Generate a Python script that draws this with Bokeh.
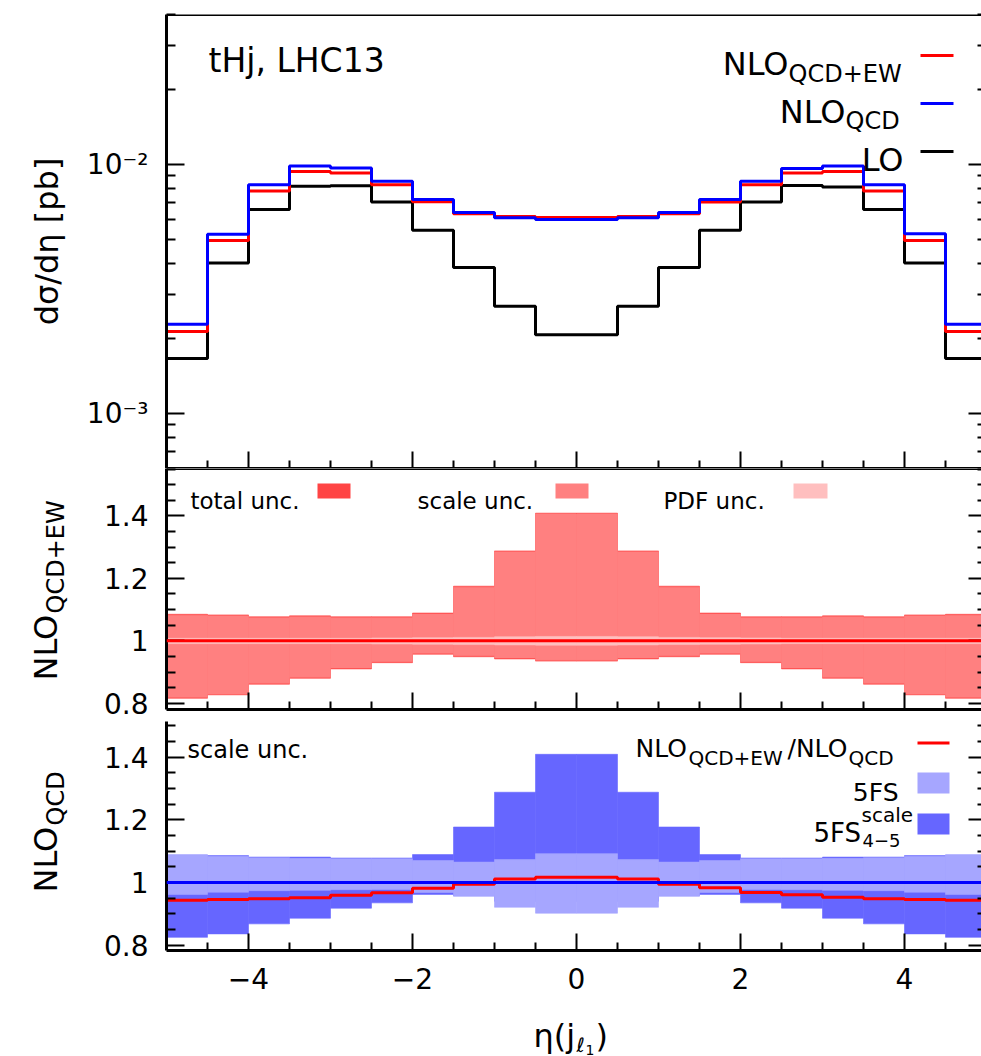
import math
import numpy as np
from bokeh.plotting import figure
from bokeh.models import Range1d, FixedTicker, LinearAxis, LogAxis, Span, Label, BoxAnnotation
from bokeh.layouts import column, row
from bokeh.embed import file_html
from bokeh.resources import INLINE

# ---------------- data ----------------
eta_edges = [-5.0, -4.5, -4.0, -3.5, -3.0, -2.5, -2.0, -1.5, -1.0, -0.5, 0.0,
             0.5, 1.0, 1.5, 2.0, 2.5, 3.0, 3.5, 4.0, 4.5, 5.0]

lo_xsec = [1.66e-3, 4.02e-3, 6.59e-3, 8.16e-3, 8.20e-3, 7.06e-3, 5.43e-3, 3.85e-3, 2.69e-3, 2.07e-3,
           2.07e-3, 2.69e-3, 3.85e-3, 5.43e-3, 7.06e-3, 8.22e-3, 8.12e-3, 6.59e-3, 4.02e-3, 1.66e-3]
nlo_qcd_xsec = [2.28e-3, 5.24e-3, 8.28e-3, 9.85e-3, 9.67e-3, 8.55e-3, 7.23e-3, 6.41e-3, 6.10e-3, 6.00e-3,
                6.00e-3, 6.10e-3, 6.41e-3, 7.23e-3, 8.55e-3, 9.62e-3, 9.85e-3, 8.28e-3, 5.26e-3, 2.28e-3]
nlo_qcdew_xsec = [2.13e-3, 4.95e-3, 7.81e-3, 9.37e-3, 9.23e-3, 8.28e-3, 7.08e-3, 6.34e-3, 6.18e-3, 6.11e-3,
                  6.11e-3, 6.18e-3, 6.34e-3, 7.06e-3, 8.28e-3, 9.23e-3, 9.37e-3, 7.81e-3, 4.95e-3, 2.13e-3]

# middle panel: NLO_QCD+EW uncertainties (ratio to central)
ew_total_hi = [1.085, 1.083, 1.077, 1.080, 1.077, 1.077, 1.089, 1.175, 1.288, 1.409,
               1.409, 1.288, 1.175, 1.089, 1.077, 1.077, 1.080, 1.077, 1.083, 1.085]
ew_total_lo = [0.816, 0.827, 0.861, 0.880, 0.910, 0.930, 0.957, 0.949, 0.942, 0.935,
               0.935, 0.942, 0.949, 0.957, 0.930, 0.910, 0.880, 0.861, 0.827, 0.816]
ew_scale_hi = [1.082, 1.080, 1.074, 1.077, 1.074, 1.074, 1.086, 1.172, 1.285, 1.406,
               1.406, 1.285, 1.172, 1.086, 1.074, 1.074, 1.077, 1.074, 1.080, 1.082]
ew_scale_lo = [0.819, 0.830, 0.864, 0.883, 0.913, 0.933, 0.960, 0.952, 0.945, 0.938,
               0.938, 0.945, 0.952, 0.960, 0.933, 0.913, 0.883, 0.864, 0.830, 0.819]
ew_pdf_hi = [1.008, 1.008, 1.008, 1.008, 1.008, 1.009, 1.010, 1.011, 1.013, 1.014,
             1.014, 1.013, 1.011, 1.010, 1.009, 1.008, 1.008, 1.008, 1.008, 1.008]
ew_pdf_lo = [0.991, 0.991, 0.991, 0.991, 0.991, 0.990, 0.989, 0.988, 0.987, 0.986,
             0.986, 0.987, 0.988, 0.989, 0.990, 0.991, 0.991, 0.991, 0.991, 0.991]

# bottom panel: ratios to NLO_QCD
fs5_hi = [1.089, 1.084, 1.079, 1.077, 1.076, 1.076, 1.070, 1.065, 1.073, 1.092,
          1.092, 1.073, 1.065, 1.070, 1.076, 1.076, 1.077, 1.079, 1.084, 1.089]
fs5_lo = [0.962, 0.969, 0.974, 0.975, 0.977, 0.978, 0.968, 0.956, 0.921, 0.902,
          0.902, 0.921, 0.956, 0.968, 0.978, 0.977, 0.975, 0.974, 0.969, 0.962]
fs45_hi = [1.085, 1.086, 1.081, 1.081, 1.078, 1.078, 1.089, 1.177, 1.288, 1.409,
           1.409, 1.288, 1.177, 1.089, 1.078, 1.078, 1.081, 1.081, 1.086, 1.085]
fs45_lo = [0.825, 0.836, 0.868, 0.886, 0.918, 0.935, 0.962, 0.958, 0.940, 0.940,
           0.940, 0.940, 0.958, 0.962, 0.935, 0.918, 0.886, 0.868, 0.836, 0.825]
ratio_ew_qcd = [0.943, 0.946, 0.948, 0.951, 0.959, 0.967, 0.982, 0.994, 1.011, 1.017,
                1.017, 1.011, 0.994, 0.983, 0.968, 0.961, 0.953, 0.948, 0.946, 0.943]

# ticks / labels
x_major = [-4, -2, 0, 2, 4]
x_minor = [-4.5, -3.5, -3, -2.5, -1.5, -1, -0.5, 0.5, 1, 1.5, 2.5, 3, 3.5, 4.5]
x_labels = {-4: "\u22124", -2: "\u22122", 0: "0", 2: "2", 4: "4"}
log_major = [1e-3, 1e-2]
log_minor = [6e-4, 7e-4, 8e-4, 9e-4, 2e-3, 3e-3, 4e-3, 5e-3, 6e-3, 7e-3, 8e-3, 9e-3, 2e-2, 3e-2, 4e-2]
log_labels = {1e-3: "10\u207b\u00b3", 1e-2: "10\u207b\u00b2"}
r_major = [0.8, 1.0, 1.2, 1.4]
r_minor = [0.85, 0.9, 0.95, 1.05, 1.1, 1.15, 1.25, 1.3, 1.35, 1.45, 1.5, 1.55]
r_labels = {0.8: "0.8", 1.0: "1", 1.2: "1.2", 1.4: "1.4"}

# ---------------- layout constants ----------------
FONT = "DejaVu Sans"
W = 981
STRIP_W = 70                 # left strip holding the rotated axis titles
FL = 166                     # frame left (page px)
PX_PER_ETA = 82.0
X_RANGE = Range1d(-5, -5 + (W - FL) / PX_PER_ETA)
GAP = 12                     # room under the middle panel for its lowest tick label
H1, H2, H3 = 468, 241 + GAP, 296 - GAP
COL_H = H1 + H2 + H3         # 1005
BOT_H = 1056 - COL_H         # 51
MID_LO, MID_HI = 0.78, 1.552
BOT_LO, BOT_HI = 0.783, 1.552
MID_UNIT_PER_PX = (MID_HI - MID_LO) / 241
BOT_UNIT_PER_PX = (BOT_HI - BOT_LO) / 241

edges = np.array(eta_edges)
left_e, right_e = edges[:-1], edges[1:]


def steps(v):
    return list(v) + [v[-1]]


def make_fig(h, yr, ytype, top, bottom):
    p = figure(width=W - STRIP_W, height=h, x_range=X_RANGE, y_range=yr, y_axis_type=ytype,
               output_backend="svg", toolbar_location=None,
               min_border_left=FL - STRIP_W, min_border_right=0,
               min_border_top=top, min_border_bottom=bottom)
    p.outline_line_color = None
    p.grid.visible = False
    return p


def make_strip(w, h):
    s = figure(width=w, height=h, x_range=Range1d(0, 1), y_range=Range1d(0, 1),
               output_backend="svg", toolbar_location=None,
               x_axis_location=None, y_axis_location=None,
               min_border_left=0, min_border_right=0, min_border_top=0, min_border_bottom=0)
    s.outline_line_color = None
    s.grid.visible = False
    return s


def hide_labels(ax, ticks):
    ax.major_label_overrides = {t: "" for t in ticks}
    ax.major_label_text_font_size = "1px"
    ax.major_label_text_alpha = 0
    ax.major_label_standoff = 0


def style_axes(p, ymaj, ymin, ylab, log, xlabels=None, top_line=True):
    ya = p.yaxis[0]
    ya.ticker = FixedTicker(ticks=ymaj, minor_ticks=ymin)
    ya.major_label_overrides = ylab
    ya.major_tick_in = 18; ya.major_tick_out = 0
    ya.minor_tick_in = 9; ya.minor_tick_out = 0
    ya.major_tick_line_width = 2; ya.minor_tick_line_width = 2
    ya.axis_line_width = 3
    ya.major_label_text_font = FONT
    ya.major_label_text_font_size = "28px"
    ya.major_label_standoff = 18
    ya.major_label_text_color = "black"

    xa = p.xaxis[0]
    xa.ticker = FixedTicker(ticks=x_major, minor_ticks=x_minor)
    xa.major_tick_in = 17; xa.major_tick_out = 0
    xa.minor_tick_in = 8; xa.minor_tick_out = 0
    xa.major_tick_line_width = 2; xa.minor_tick_line_width = 2
    xa.axis_line_width = 3
    if xlabels is None:
        hide_labels(xa, x_major)
    else:
        xa.major_label_overrides = xlabels
        xa.major_label_text_font = FONT
        xa.major_label_text_font_size = "28px"
        xa.major_label_standoff = 17
        xa.major_label_text_color = "black"

    AxCls = LogAxis if log else LinearAxis
    ra = AxCls(ticker=FixedTicker(ticks=ymaj, minor_ticks=ymin), axis_line_color=None,
               major_tick_in=13, major_tick_out=0, minor_tick_in=4, minor_tick_out=0,
               major_tick_line_width=2, minor_tick_line_width=2)
    hide_labels(ra, ymaj)
    p.add_layout(ra, "right")
    if top_line:
        p.add_layout(Span(location=p.y_range.end, dimension="width", line_color="black", line_width=3))


def txt(p, ox, oy, px, py, text, size, align="left", angle=0.0):
    """Place a text at page pixel (px, py); (ox, oy) = page position of the frame's bottom-left."""
    p.add_layout(Label(x=px - ox, y=oy - py, x_units="screen", y_units="screen", text=text,
                       text_font=FONT, text_font_size=f"{size}px", text_align=align,
                       text_baseline="alphabetic", angle=angle, text_color="black"))


def box(p, ox, oy, x0, x1, y0, y1, color):
    p.add_layout(BoxAnnotation(left=x0 - ox, right=x1 - ox, top=oy - y0, bottom=oy - y1,
                               left_units="screen", right_units="screen",
                               top_units="screen", bottom_units="screen",
                               fill_color=color, fill_alpha=1.0, line_color=None))


RED = "#ff0000"
BLUE = "#0000ff"
C_TOT, C_SCALE, C_PDF = "#ff4444", "#ff8080", "#ffbfbf"
C_5FS, C_45 = "#a6a6ff", "#6666ff"
ROT = math.pi / 2
LW = 3

# ---------------- top panel ----------------
FB1 = 468
p1 = make_fig(H1, Range1d(6.0e-4, 4.0e-2), "log", 14, 0)
style_axes(p1, log_major, log_minor, log_labels, True)
p1.step(edges, steps(lo_xsec), mode="after", line_color="black", line_width=LW)
p1.step(edges, steps(nlo_qcdew_xsec), mode="after", line_color=RED, line_width=LW)
p1.step(edges, steps(nlo_qcd_xsec), mode="after", line_color=BLUE, line_width=LW)

txt(p1, FL, FB1, 208, 60, "tHj, LHC13", 33)
txt(p1, FL, FB1, 788, 63, "NLO", 32, "right")
txt(p1, FL, FB1, 788, 73, "QCD+EW", 24)
txt(p1, FL, FB1, 845, 111, "NLO", 32, "right")
txt(p1, FL, FB1, 845, 120, "QCD", 24)
txt(p1, FL, FB1, 903, 159, "LO", 32, "right")
box(p1, FL, FB1, 920, 953, 53.5, 56.5, RED)
box(p1, FL, FB1, 920, 953, 101.5, 104.5, BLUE)
box(p1, FL, FB1, 920, 953, 149.5, 152.5, "black")

# ---------------- middle panel ----------------
FB2 = 709
p2 = make_fig(H2, Range1d(MID_LO, MID_HI), "linear", 0, GAP)
style_axes(p2, r_major, r_minor, r_labels, False)
# let the left frame line run on through the gap below this panel
p2.yaxis[0].bounds = (MID_LO - (GAP + 1) * MID_UNIT_PER_PX, MID_HI)
p2.quad(left=left_e, right=right_e, bottom=ew_total_lo, top=ew_total_hi,
        fill_color=C_TOT, line_color=C_TOT, line_width=0.6)
p2.quad(left=left_e, right=right_e, bottom=ew_scale_lo, top=ew_scale_hi,
        fill_color=C_SCALE, line_color=C_SCALE, line_width=0.6)
p2.quad(left=left_e, right=right_e, bottom=ew_pdf_lo, top=ew_pdf_hi,
        fill_color=C_PDF, line_color=C_PDF, line_width=0.6)
p2.add_layout(Span(location=1.0, dimension="width", line_color=RED, line_width=LW))

txt(p2, FL, FB2, 190, 500, "total unc.", 23)
box(p2, FL, FB2, 317, 350, 483, 498, C_TOT)
txt(p2, FL, FB2, 417, 500, "scale unc.", 23)
box(p2, FL, FB2, 555, 588, 483, 498, C_SCALE)
txt(p2, FL, FB2, 663, 500, "PDF unc.", 23)
box(p2, FL, FB2, 793, 827, 483, 498, C_PDF)

# ---------------- bottom panel ----------------
FB3 = 950
p3 = make_fig(H3, Range1d(BOT_LO, BOT_HI - GAP * BOT_UNIT_PER_PX), "linear", 0, 55)
style_axes(p3, r_major, r_minor, r_labels, False, xlabels=x_labels, top_line=False)
p3.quad(left=left_e, right=right_e, bottom=fs45_lo, top=fs45_hi,
        fill_color=C_45, line_color=C_45, line_width=0.6)
p3.quad(left=left_e, right=right_e, bottom=fs5_lo, top=fs5_hi,
        fill_color=C_5FS, line_color=C_5FS, line_width=0.6)
p3.add_layout(Span(location=1.0, dimension="width", line_color=BLUE, line_width=LW))
p3.step(edges, steps(ratio_ew_qcd), mode="after", line_color=RED, line_width=LW)

txt(p3, FL, FB3, 187, 749, "scale unc.", 24)
txt(p3, FL, FB3, 635, 748, "NLO", 25)
txt(p3, FL, FB3, 688, 757, "QCD+EW", 20)
txt(p3, FL, FB3, 787, 748, "/NLO", 25)
txt(p3, FL, FB3, 848, 757, "QCD", 20)
box(p3, FL, FB3, 917, 949, 741, 744, RED)
txt(p3, FL, FB3, 898, 792, "5FS", 25, "right")
box(p3, FL, FB3, 917, 949, 772, 793, C_5FS)
txt(p3, FL, FB3, 813, 832, "5FS", 26)
txt(p3, FL, FB3, 861, 814, "scale", 20)
txt(p3, FL, FB3, 862, 840, "4\u22125", 18)
box(p3, FL, FB3, 917, 949, 813, 834, C_45)

# ---------------- left strip: rotated axis titles ----------------
ls = make_strip(STRIP_W, COL_H)
txt(ls, 0, COL_H, 46, 241, "d\u03c3/d\u03b7 [pb]", 32, "center", ROT)
txt(ls, 0, COL_H, 45, 680, "NLO", 32, "left", ROT)
txt(ls, 0, COL_H, 55, 613, "QCD+EW", 24, "left", ROT)
txt(ls, 0, COL_H, 45, 892, "NLO", 32, "left", ROT)
txt(ls, 0, COL_H, 55, 825, "QCD", 24, "left", ROT)

# ---------------- bottom strip: x-axis title eta(j_{l_1}) ----------------
bs = make_strip(W, BOT_H)
txt(bs, 0, 1056, 533, 1035, "\u03b7(j", 32)
txt(bs, 0, 1056, 576, 1044, "\u2113", 20)
txt(bs, 0, 1056, 585, 1049, "1", 14)
txt(bs, 0, 1056, 595, 1035, ")", 32)

layout = column(row(ls, column(p1, p2, p3)), bs)
open("out.html", "w").write(file_html(layout, INLINE))
